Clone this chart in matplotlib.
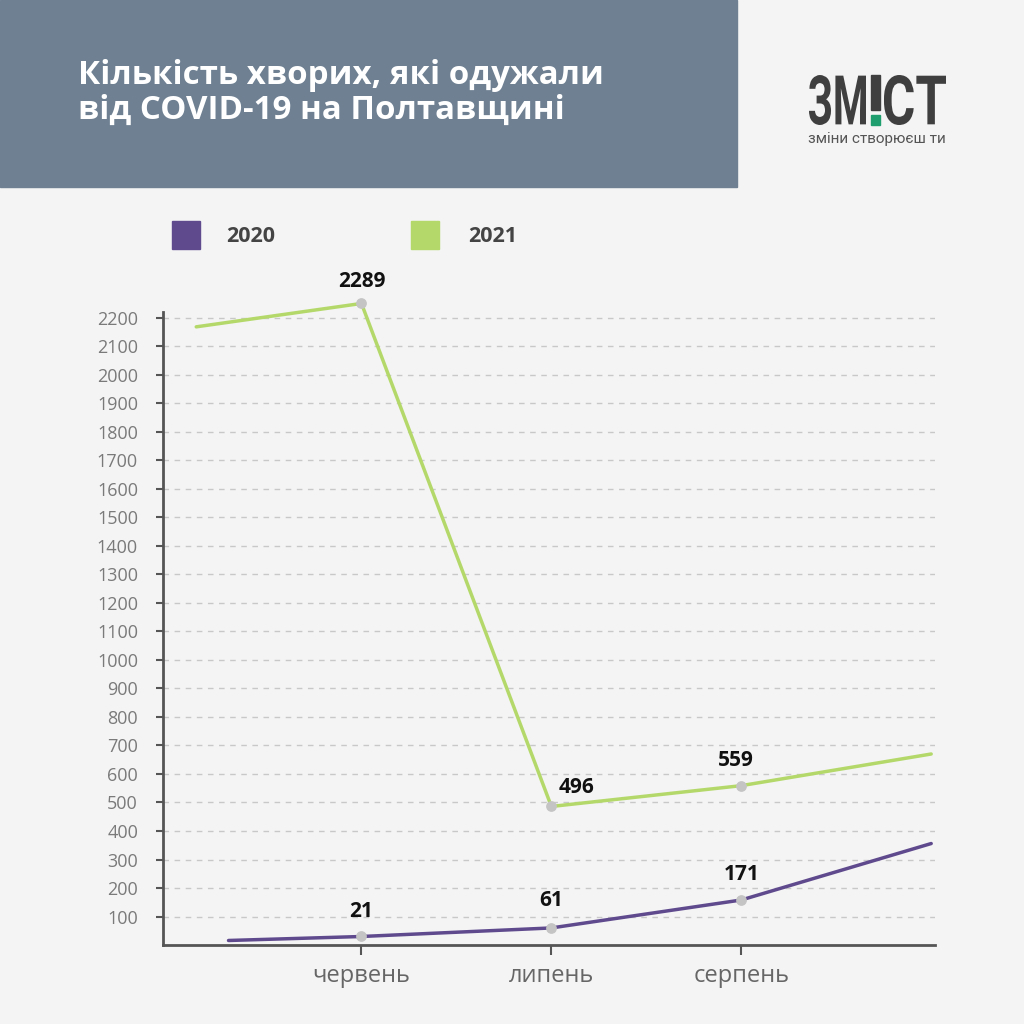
import matplotlib.pyplot as plt
from matplotlib.patches import Rectangle, PathPatch
from matplotlib.textpath import TextPath
from matplotlib.font_manager import FontProperties
from matplotlib.transforms import Affine2D

# дані
months = ['червень', 'липень', 'серпень']
month_pos = [1, 2, 3]

x_2020 = [0.3, 1, 2, 3, 4]
y_2020 = [16, 30, 60, 158, 356]
labels_2020 = ['21', '61', '171']

x_2021 = [0.13, 1, 2, 3, 4]
y_2021 = [2168, 2250, 486, 559, 670]
labels_2021 = ['2289', '496', '559']

y_ticks = list(range(100, 2300, 100))

c2020 = '#5f4a8e'
c2021 = '#b4d96a'
bg = '#f4f4f4'
header = '#6e8092'
font = ['Open Sans', 'DejaVu Sans']
plt.rcParams['font.family'] = font

fig = plt.figure(figsize=(10.24, 10.24), dpi=100, facecolor=bg)
W = 1024.0


def logo_text(s, x0, x1, ytop, ybot, color):
    # текст логотипу, вписаний у прямокутник (пікселі, y згори)
    tp = TextPath((0, 0), s, size=1, prop=FontProperties(family='Roboto', weight='bold'))
    ext = tp.get_extents()
    sx = (x1 - x0) / ext.width
    sy = (ybot - ytop) / ext.height
    tr = (Affine2D().translate(-ext.x0, -ext.y0).scale(sx / W, sy / W)
          .translate(x0 / W, 1 - ybot / W) + fig.transFigure)
    fig.patches.append(PathPatch(tp, transform=tr, color=color, lw=0))


# шапка
fig.patches.append(Rectangle((0, 1 - 187 / W), 737 / W, 187 / W,
                             transform=fig.transFigure, color=header, zorder=0))
fig.text(78 / W, 1 - 76 / W, 'Кількість хворих, які одужали', color='white',
         fontsize=23.8, fontweight='bold', va='center', ha='left')
fig.text(78 / W, 1 - 110 / W, 'від COVID-19 на Полтавщині', color='white',
         fontsize=23.8, fontweight='bold', va='center', ha='left')

# логотип
logo_text('ЗМ', 809, 866, 75, 125, '#3f3f3f')
logo_text('СТ', 884, 946, 75, 125, '#3f3f3f')
fig.patches.append(Rectangle((871 / W, 1 - 110 / W), 9 / W, 35 / W,
                             transform=fig.transFigure, color='#3f3f3f'))
fig.patches.append(Rectangle((871 / W, 1 - 125 / W), 9 / W, 10 / W,
                             transform=fig.transFigure, color='#1e9e6e'))
fig.text(877 / W, 1 - 139 / W, 'зміни створюєш ти', family=['Roboto', 'DejaVu Sans'],
         fontsize=11, color='#555555', ha='center', va='center')

# легенда
for sx, tx, col, name in [(172, 226, c2020, '2020'), (411, 468, c2021, '2021')]:
    fig.patches.append(Rectangle((sx / W, 1 - 249 / W), 28 / W, 28 / W,
                                 transform=fig.transFigure, color=col))
    fig.text(tx / W, 1 - 236 / W, name, fontsize=15.5, fontweight='bold',
             color='#444444', ha='left', va='center')

ax = fig.add_axes([163 / W, 0.0771, (935 - 163) / W, 0.6182])
ax.set_facecolor(bg)

ax.plot(x_2020, y_2020, color=c2020, lw=2.5, solid_capstyle='round', zorder=3, clip_on=False)
ax.plot(x_2021, y_2021, color=c2021, lw=2.5, solid_capstyle='round', zorder=3, clip_on=False)
ax.scatter(x_2020[1:4], y_2020[1:4], s=45, color='#c4c4c4', zorder=4, clip_on=False)
ax.scatter(x_2021[1:4], y_2021[1:4], s=45, color='#c4c4c4', zorder=4, clip_on=False)

offs_2020 = [(0, 18), (0, 20), (0, 18)]
offs_2021 = [(0, 16), (18, 14), (-4, 18)]
for xv, yv, t, o in zip(x_2020[1:4], y_2020[1:4], labels_2020, offs_2020):
    ax.annotate(t, (xv, yv), xytext=o, textcoords='offset points', ha='center',
                va='center', fontsize=15, fontweight='bold', color='#111111',
                annotation_clip=False)
for xv, yv, t, o in zip(x_2021[1:4], y_2021[1:4], labels_2021, offs_2021):
    ax.annotate(t, (xv, yv), xytext=o, textcoords='offset points', ha='center',
                va='center', fontsize=15, fontweight='bold', color='#111111',
                annotation_clip=False)

ax.set_xlim(-0.045, 4.02)
ax.set_ylim(0, 2220)
ax.set_yticks(y_ticks)
ax.set_yticklabels([str(v) for v in y_ticks])
ax.set_xticks(month_pos)
ax.set_xticklabels(months)
ax.tick_params(axis='y', length=5, width=1.5, color='#555555', labelcolor='#7a7a7a',
               labelsize=13, pad=13)
ax.tick_params(axis='x', length=7, width=1.5, color='#555555', labelcolor='#666666',
               labelsize=17, pad=7)
ax.grid(axis='y', color='#c8c8c8', linestyle=(0, (4, 4)), lw=1)
ax.set_axisbelow(True)
for s in ['top', 'right']:
    ax.spines[s].set_visible(False)
for s in ['left', 'bottom']:
    ax.spines[s].set_color('#555555')
    ax.spines[s].set_linewidth(2)

fig.savefig('out.png', dpi=100, facecolor=bg)
